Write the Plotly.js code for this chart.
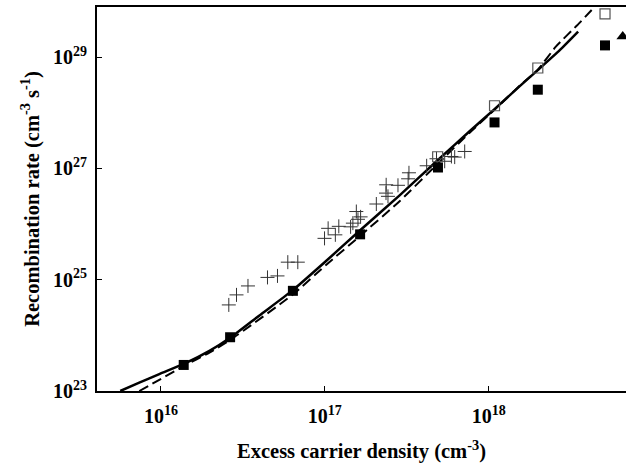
<!DOCTYPE html>
<html>
<head>
<meta charset="utf-8">
<script src="https://cdn.plot.ly/plotly-3.0.1.min.js"></script>
<style>html,body{margin:0;padding:0;background:#fff;}#chart{width:626px;height:468px;}</style>
</head>
<body>
<div id="chart"></div>
<script>
// log10 values
var filledX = [16.139, 16.422, 16.805, 17.215, 17.690, 18.035, 18.299, 18.709];
var filledY = [23.468, 23.966, 24.800, 25.815, 27.016, 27.826, 28.414, 29.210];
var openX = [17.688, 18.035, 18.299, 18.709];
var openY = [27.209, 28.126, 28.804, 29.775];
var triX = [18.817];
var triY = [29.372];
var crossX = [16.414, 16.461, 16.531, 16.650, 16.711, 16.774, 16.835, 16.998, 17.020, 17.064, 17.085, 17.157, 17.171, 17.192, 17.202, 17.218, 17.314, 17.374, 17.373, 17.385, 17.446, 17.513, 17.508, 17.621, 17.681, 17.731, 17.772, 17.792, 17.853];
var crossY = [24.547, 24.727, 24.888, 25.041, 25.068, 25.315, 25.315, 25.743, 25.923, 25.806, 25.959, 25.950, 26.016, 26.225, 26.085, 26.129, 26.360, 26.705, 26.556, 26.498, 26.696, 26.921, 26.813, 27.047, 27.173, 27.128, 27.214, 27.203, 27.304];
var solidX = [15.752, 15.868, 15.990, 16.140, 16.296, 16.424, 16.601, 16.803, 17.009, 17.212, 17.456, 17.688, 17.883, 18.035, 18.189, 18.299, 18.433, 18.545];
var solidY = [23.000, 23.150, 23.305, 23.486, 23.720, 23.960, 24.358, 24.808, 25.340, 25.880, 26.516, 27.146, 27.667, 28.065, 28.477, 28.766, 29.124, 29.457];
var dashX = [15.868, 15.990, 16.140, 16.296, 16.424, 16.803, 17.009, 17.212, 17.456, 17.688, 17.883, 18.035, 18.189, 18.299, 18.409, 18.555, 18.647];
var dashY = [23.000, 23.200, 23.450, 23.690, 23.920, 24.730, 25.270, 25.780, 26.410, 27.083, 27.640, 28.054, 28.486, 28.773, 29.187, 29.619, 29.906];
var xTickVals = [16, 17, 18];
var xTickText = ['10<sup>16</sup>', '10<sup>17</sup>', '10<sup>18</sup>'];
var yTickVals = [23, 25, 27, 29];
var yTickText = ['10<sup>23</sup>', '10<sup>25</sup>', '10<sup>27</sup>', '10<sup>29</sup>'];

function pw(a) { return a.map(function (v) { return Math.pow(10, v); }); }

var traces = [
  {x: pw(solidX), y: pw(solidY), mode: 'lines', line: {color: '#000', width: 2.5, shape: 'spline', smoothing: 0.5}, hoverinfo: 'skip'},
  {x: pw(dashX), y: pw(dashY), mode: 'lines', line: {color: '#000', width: 2, dash: '10px,5px', shape: 'spline', smoothing: 0.5}, hoverinfo: 'skip'},
  {x: pw(crossX), y: pw(crossY), mode: 'markers', cliponaxis: false, marker: {symbol: 'cross-thin-open', size: 10, color: '#333', line: {color: '#333', width: 1}}},
  {x: pw(openX), y: pw(openY), mode: 'markers', cliponaxis: false, marker: {symbol: 'square-open', size: 10, color: '#555', line: {color: '#555', width: 1.2}}},
  {x: pw(filledX), y: pw(filledY), mode: 'markers', cliponaxis: false, marker: {symbol: 'square', size: 10, color: '#000'}},
  {x: pw(triX), y: pw(triY), mode: 'markers', cliponaxis: false, marker: {symbol: 'triangle-up', size: 11, color: '#000'}}
];

var fam = '"Liberation Serif", "Times New Roman", serif';

var layout = {
  width: 626, height: 468,
  margin: {l: 97, r: 0, t: 7, b: 77},
  paper_bgcolor: '#fff', plot_bgcolor: '#fff',
  showlegend: false,
  font: {family: fam, color: '#000'},
  xaxis: {
    type: 'log', range: [15.610, 18.837],
    showgrid: false, zeroline: false,
    showline: true, linecolor: '#000', linewidth: 2, mirror: true,
    ticks: 'inside', ticklen: 5, tickwidth: 1, tickcolor: '#000',
    tickvals: pw(xTickVals), ticktext: xTickText,
    ticklabelstandoff: 6,
    tickfont: {family: fam, size: 20, color: '#000', weight: 'bold'},
    title: {text: '<b>Excess carrier density (cm<sup>-3</sup>)</b>', font: {family: fam, size: 20.5, color: '#000'}, standoff: 18}
  },
  yaxis: {
    type: 'log', range: [23, 29.90],
    showgrid: false, zeroline: false,
    showline: true, linecolor: '#000', linewidth: 2, mirror: false,
    ticks: 'inside', ticklen: 5, tickwidth: 1, tickcolor: '#000',
    tickvals: pw(yTickVals), ticktext: yTickText,
    ticklabelstandoff: 4,
    tickfont: {family: fam, size: 20, color: '#000', weight: 'bold'},
    title: {text: '<b>Recombination rate (cm<sup>-3</sup> s<sup>-1</sup>)</b>', font: {family: fam, size: 20.5, color: '#000'}, standoff: 8}
  }
};

Plotly.newPlot('chart', traces, layout, {staticPlot: true, displayModeBar: false});
</script>
</body>
</html>
